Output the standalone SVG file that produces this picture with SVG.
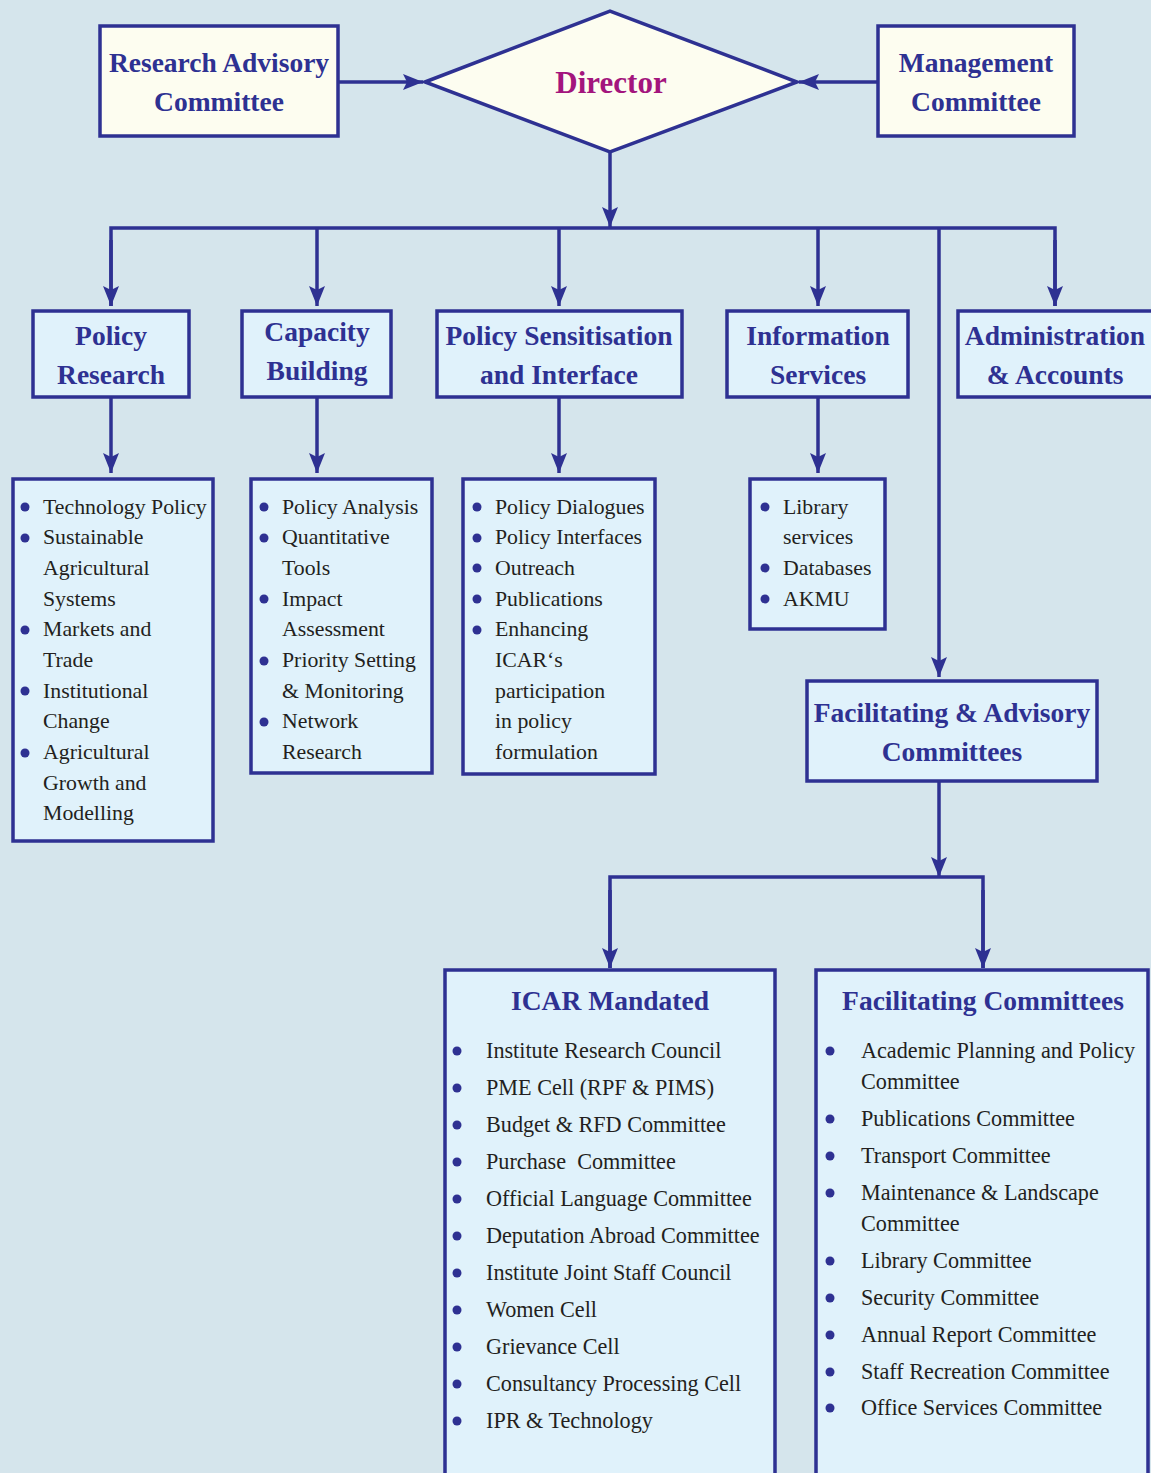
<svg xmlns="http://www.w3.org/2000/svg" width="1151" height="1473" viewBox="0 0 1151 1473">
<defs>
<style>
.bx{fill:#e0f2fb;stroke:#2e3192;stroke-width:3.5}
.cr{fill:#fdfdf0;stroke:#2e3192;stroke-width:3.5}
.hd{font-family:"Liberation Serif",serif;font-size:27.5px;fill:#2e3192;text-anchor:middle;font-weight:bold}
.li{font-family:"Liberation Serif",serif;font-size:21.8px;fill:#231f20}
.lb{font-family:"Liberation Serif",serif;font-size:22.2px;fill:#231f20}
.bu{fill:#2e3192}
.cn{fill:none;stroke:#2e3192;stroke-width:3.5}
</style>
<marker id="a2" viewBox="0 0 20 16" refX="20" refY="8" markerWidth="20" markerHeight="16" orient="auto" markerUnits="userSpaceOnUse">
<path d="M0,0 L20,8 L0,16 L4,8 Z" fill="#2e3192"/>
</marker>
</defs>
<rect x="0" y="0" width="1151" height="1473" fill="#d5e5ec"/>

<g id="connectors">
<path class="cn" d="M338,82 H423" marker-end="url(#a2)"/>
<path class="cn" d="M878,82 H799" marker-end="url(#a2)"/>
<path class="cn" d="M610,152 V227" marker-end="url(#a2)"/>
<path class="cn" d="M111,306 V228 H1055 V306"/>
<path class="cn" d="M111,240 V306" marker-end="url(#a2)"/>
<path class="cn" d="M317,228 V306" marker-end="url(#a2)"/>
<path class="cn" d="M559,228 V306" marker-end="url(#a2)"/>
<path class="cn" d="M818,228 V306" marker-end="url(#a2)"/>
<path class="cn" d="M1055,240 V306" marker-end="url(#a2)"/>
<path class="cn" d="M939,228 V677" marker-end="url(#a2)"/>
<path class="cn" d="M111,397 V473" marker-end="url(#a2)"/>
<path class="cn" d="M317,397 V473" marker-end="url(#a2)"/>
<path class="cn" d="M559,397 V473" marker-end="url(#a2)"/>
<path class="cn" d="M818,397 V473" marker-end="url(#a2)"/>
<path class="cn" d="M939,781 V877" marker-end="url(#a2)"/>
<path class="cn" d="M610,968 V877 H983 V968"/>
<path class="cn" d="M610,890 V968" marker-end="url(#a2)"/>
<path class="cn" d="M983,890 V968" marker-end="url(#a2)"/>
</g>

<g id="research-advisory">
<rect class="cr" x="100" y="26" width="238" height="110"/>
<text class="hd" x="219" y="72">Research Advisory</text>
<text class="hd" x="219" y="111">Committee</text>
</g>
<g id="director">
<polygon points="425,82 610,11 797,82 610,152" fill="#fdfdf0" stroke="#2e3192" stroke-width="3.5"/>
<text class="hd" x="611" y="93" style="fill:#a3157d;font-size:31px">Director</text>
</g>
<g id="management">
<rect class="cr" x="878" y="26" width="196" height="110"/>
<text class="hd" x="976" y="72">Management</text>
<text class="hd" x="976" y="111">Committee</text>
</g>

<g id="policy-research">
<rect class="bx" x="33" y="311" width="156" height="86"/>
<text class="hd" x="111" y="345">Policy</text>
<text class="hd" x="111" y="384">Research</text>
</g>
<g id="capacity-building">
<rect class="bx" x="242" y="311" width="149" height="86"/>
<text class="hd" x="317" y="341">Capacity</text>
<text class="hd" x="317" y="380">Building</text>
</g>
<g id="policy-sensitisation">
<rect class="bx" x="437" y="311" width="245" height="86"/>
<text class="hd" x="559" y="345">Policy Sensitisation</text>
<text class="hd" x="559" y="384">and Interface</text>
</g>
<g id="information-services">
<rect class="bx" x="727" y="311" width="181" height="86"/>
<text class="hd" x="818" y="345">Information</text>
<text class="hd" x="818" y="384">Services</text>
</g>
<g id="administration">
<rect class="bx" x="958" y="311" width="200" height="86"/>
<text class="hd" x="1055" y="345">Administration</text>
<text class="hd" x="1055" y="384">&amp; Accounts</text>
</g>

<g id="list-policy-research">
<rect class="bx" x="13" y="479" width="200" height="362"/>
<circle class="bu" cx="25" cy="507" r="4.5"/>
<circle class="bu" cx="25" cy="538" r="4.5"/>
<circle class="bu" cx="25" cy="630" r="4.5"/>
<circle class="bu" cx="25" cy="691" r="4.5"/>
<circle class="bu" cx="25" cy="753" r="4.5"/>
<text class="li" x="43" y="514">Technology Policy</text>
<text class="li" x="43" y="544">Sustainable</text>
<text class="li" x="43" y="575">Agricultural</text>
<text class="li" x="43" y="606">Systems</text>
<text class="li" x="43" y="636">Markets and</text>
<text class="li" x="43" y="667">Trade</text>
<text class="li" x="43" y="698">Institutional</text>
<text class="li" x="43" y="728">Change</text>
<text class="li" x="43" y="759">Agricultural</text>
<text class="li" x="43" y="790">Growth and</text>
<text class="li" x="43" y="820">Modelling</text>
</g>
<g id="list-capacity">
<rect class="bx" x="251" y="479" width="181" height="294"/>
<circle class="bu" cx="264" cy="507" r="4.5"/>
<circle class="bu" cx="264" cy="538" r="4.5"/>
<circle class="bu" cx="264" cy="599" r="4.5"/>
<circle class="bu" cx="264" cy="661" r="4.5"/>
<circle class="bu" cx="264" cy="722" r="4.5"/>
<text class="li" x="282" y="514">Policy Analysis</text>
<text class="li" x="282" y="544">Quantitative</text>
<text class="li" x="282" y="575">Tools</text>
<text class="li" x="282" y="606">Impact</text>
<text class="li" x="282" y="636">Assessment</text>
<text class="li" x="282" y="667">Priority Setting</text>
<text class="li" x="282" y="698">&amp; Monitoring</text>
<text class="li" x="282" y="728">Network</text>
<text class="li" x="282" y="759">Research</text>
</g>
<g id="list-sensitisation">
<rect class="bx" x="463" y="479" width="192" height="295"/>
<circle class="bu" cx="477" cy="507" r="4.5"/>
<circle class="bu" cx="477" cy="538" r="4.5"/>
<circle class="bu" cx="477" cy="568" r="4.5"/>
<circle class="bu" cx="477" cy="599" r="4.5"/>
<circle class="bu" cx="477" cy="630" r="4.5"/>
<text class="li" x="495" y="514">Policy Dialogues</text>
<text class="li" x="495" y="544">Policy Interfaces</text>
<text class="li" x="495" y="575">Outreach</text>
<text class="li" x="495" y="606">Publications</text>
<text class="li" x="495" y="636">Enhancing</text>
<text class="li" x="495" y="667">ICAR‘s</text>
<text class="li" x="495" y="698">participation</text>
<text class="li" x="495" y="728">in policy</text>
<text class="li" x="495" y="759">formulation</text>
</g>
<g id="list-information">
<rect class="bx" x="750" y="479" width="135" height="150"/>
<circle class="bu" cx="765" cy="507" r="4.5"/>
<circle class="bu" cx="765" cy="568" r="4.5"/>
<circle class="bu" cx="765" cy="599" r="4.5"/>
<text class="li" x="783" y="514">Library</text>
<text class="li" x="783" y="544">services</text>
<text class="li" x="783" y="575">Databases</text>
<text class="li" x="783" y="606">AKMU</text>
</g>

<g id="facilitating-advisory">
<rect class="bx" x="807" y="681" width="290" height="100"/>
<text class="hd" x="952" y="722">Facilitating &amp; Advisory</text>
<text class="hd" x="952" y="761">Committees</text>
</g>

<g id="icar-mandated">
<rect class="bx" x="445" y="970" width="330" height="510"/>
<text class="hd" x="610" y="1010">ICAR Mandated</text>
<g class="bu">
<circle cx="457" cy="1051" r="4.5"/><circle cx="457" cy="1088" r="4.5"/><circle cx="457" cy="1125" r="4.5"/><circle cx="457" cy="1162" r="4.5"/><circle cx="457" cy="1199" r="4.5"/><circle cx="457" cy="1236" r="4.5"/><circle cx="457" cy="1273" r="4.5"/><circle cx="457" cy="1310" r="4.5"/><circle cx="457" cy="1347" r="4.5"/><circle cx="457" cy="1384" r="4.5"/><circle cx="457" cy="1421" r="4.5"/>
</g>
<text class="lb" x="486" y="1058">Institute Research Council</text>
<text class="lb" x="486" y="1095">PME Cell (RPF &amp; PIMS)</text>
<text class="lb" x="486" y="1132">Budget &amp; RFD Committee</text>
<text class="lb" x="486" y="1169" xml:space="preserve">Purchase  Committee</text>
<text class="lb" x="486" y="1206">Official Language Committee</text>
<text class="lb" x="486" y="1243">Deputation Abroad Committee</text>
<text class="lb" x="486" y="1280">Institute Joint Staff Council</text>
<text class="lb" x="486" y="1317">Women Cell</text>
<text class="lb" x="486" y="1354">Grievance Cell</text>
<text class="lb" x="486" y="1391">Consultancy Processing Cell</text>
<text class="lb" x="486" y="1428">IPR &amp; Technology</text>
</g>

<g id="facilitating-committees">
<rect class="bx" x="816" y="970" width="332" height="510"/>
<text class="hd" x="983" y="1010">Facilitating Committees</text>
<g class="bu">
<circle cx="830" cy="1051" r="4.5"/><circle cx="830" cy="1119" r="4.5"/><circle cx="830" cy="1156" r="4.5"/><circle cx="830" cy="1193" r="4.5"/><circle cx="830" cy="1261" r="4.5"/><circle cx="830" cy="1298" r="4.5"/><circle cx="830" cy="1335" r="4.5"/><circle cx="830" cy="1372" r="4.5"/><circle cx="830" cy="1408" r="4.5"/>
</g>
<text class="lb" x="861" y="1058">Academic Planning and Policy</text>
<text class="lb" x="861" y="1089">Committee</text>
<text class="lb" x="861" y="1126">Publications Committee</text>
<text class="lb" x="861" y="1163">Transport Committee</text>
<text class="lb" x="861" y="1200">Maintenance &amp; Landscape</text>
<text class="lb" x="861" y="1231">Committee</text>
<text class="lb" x="861" y="1268">Library Committee</text>
<text class="lb" x="861" y="1305">Security Committee</text>
<text class="lb" x="861" y="1342">Annual Report Committee</text>
<text class="lb" x="861" y="1379">Staff Recreation Committee</text>
<text class="lb" x="861" y="1415">Office Services Committee</text>
</g>
</svg>
